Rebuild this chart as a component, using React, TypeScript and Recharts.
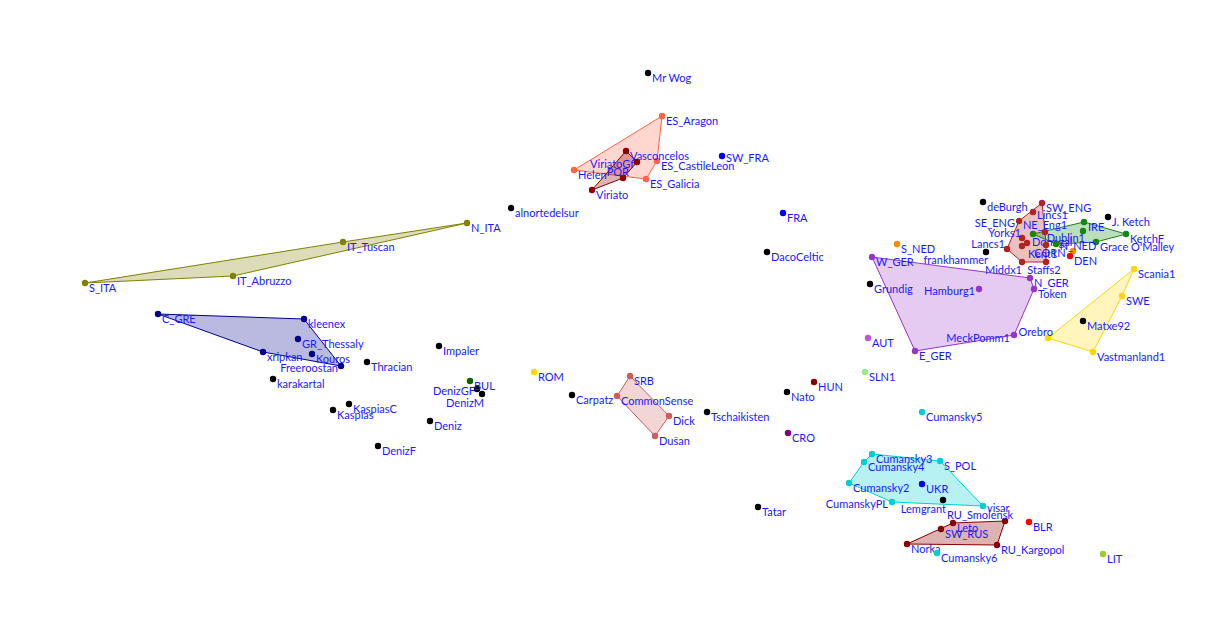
import React from "react";
import { Scatter, ScatterChart, XAxis, YAxis } from "recharts";

type Pt = { name: string; x: number; y: number };

// clusters (each gets a convex hull)
const iberia: Pt[] = [
  { name: "ES_Aragon", x: 0.62, y: 2.14 },
  { name: "Helen", x: -0.26, y: 1.6 },
  { name: "ES_CastileLeon", x: 0.57, y: 1.69 },
  { name: "ES_Galicia", x: 0.46, y: 1.51 },
];
const portugal: Pt[] = [
  { name: "Vasconcelos", x: 0.26, y: 1.79 },
  { name: "ViriatoGf", x: 0.37, y: 1.68 },
  { name: "POR", x: 0.23, y: 1.52 },
  { name: "Viriato", x: -0.08, y: 1.4 },
];
const italy: Pt[] = [
  { name: "N_ITA", x: -1.33, y: 1.07 },
  { name: "IT_Tuscan", x: -2.57, y: 0.88 },
  { name: "IT_Abruzzo", x: -3.67, y: 0.54 },
  { name: "S_ITA", x: -5.15, y: 0.47 },
];
const greece: Pt[] = [
  { name: "C_GRE", x: -4.42, y: 0.16 },
  { name: "kleenex", x: -2.96, y: 0.11 },
  { name: "GR_Thessaly", x: -3.02, y: -0.09 },
  { name: "xripkan", x: -3.37, y: -0.22 },
  { name: "Kouros", x: -2.88, y: -0.24 },
  { name: "Freeroostan", x: -2.59, y: -0.36 },
];
const balkan: Pt[] = [
  { name: "SRB", x: 0.3, y: -0.46 },
  { name: "CommonSense", x: 0.17, y: -0.66 },
  { name: "Dick", x: 0.69, y: -0.86 },
  { name: "Dušan", x: 0.55, y: -1.06 },
];
const germany: Pt[] = [
  { name: "W_GER", x: 2.72, y: 0.73 },
  { name: "Hamburg1", x: 3.79, y: 0.41 },
  { name: "N_GER", x: 4.3, y: 0.52 },
  { name: "Token", x: 4.34, y: 0.41 },
  { name: "MeckPomm1", x: 4.14, y: -0.05 },
  { name: "E_GER", x: 3.15, y: -0.21 },
];
const sweden: Pt[] = [
  { name: "Scania1", x: 5.34, y: 0.61 },
  { name: "SWE", x: 5.22, y: 0.34 },
  { name: "Orebro", x: 4.48, y: -0.08 },
  { name: "Vastmanland1", x: 4.93, y: -0.22 },
];
const cumansky: Pt[] = [
  { name: "Cumansky3", x: 2.72, y: -1.24 },
  { name: "Cumansky4", x: 2.64, y: -1.32 },
  { name: "S_POL", x: 3.4, y: -1.31 },
  { name: "Cumansky2", x: 2.49, y: -1.53 },
  { name: "CumanskyPL", x: 2.92, y: -1.72 },
  { name: "visar", x: 3.83, y: -1.76 },
];
const russia: Pt[] = [
  { name: "RU_Smolensk", x: 4.05, y: -1.91 },
  { name: "Leto", x: 3.53, y: -1.93 },
  { name: "SW_RUS", x: 3.41, y: -1.99 },
  { name: "Norka", x: 3.07, y: -2.14 },
  { name: "RU_Kargopol", x: 3.97, y: -2.15 },
];
const england: Pt[] = [
  { name: "SW_ENG", x: 4.42, y: 1.27 },
  { name: "Lincs1", x: 4.33, y: 1.18 },
  { name: "SE_ENG", x: 4.19, y: 1.09 },
  { name: "NE_Eng1", x: 4.45, y: 0.98 },
  { name: "Yorks1", x: 4.22, y: 0.92 },
  { name: "Kent1", x: 4.22, y: 0.84 },
  { name: "Donegal", x: 4.27, y: 0.87 },
  { name: "CORN", x: 4.46, y: 0.85 },
  { name: "Lancs1", x: 4.07, y: 0.81 },
  { name: "Middx1", x: 4.22, y: 0.68 },
  { name: "Staffs2", x: 4.46, y: 0.68 },
];
const ireland: Pt[] = [
  { name: "NIR", x: 4.33, y: 0.96 },
  { name: "IRE", x: 4.84, y: 1.08 },
  { name: "Dublin1", x: 4.83, y: 0.99 },
  { name: "KetchF", x: 5.26, y: 0.96 },
  { name: "Grace O'Malley", x: 4.96, y: 0.88 },
  { name: "SCO", x: 4.56, y: 0.86 },
];

// single samples, grouped by marker colour
const blackPts: Pt[] = [
  { name: "Mr Wog", x: 0.48, y: 2.57 },
  { name: "alnortedelsur", x: -0.89, y: 1.22 },
  { name: "DacoCeltic", x: 1.67, y: 0.78 },
  { name: "Grundig", x: 2.7, y: 0.46 },
  { name: "frankhammer", x: 3.86, y: 0.78 },
  { name: "deBurgh", x: 3.83, y: 1.28 },
  { name: "J. Ketch", x: 5.08, y: 1.13 },
  { name: "Matxe92", x: 4.83, y: 0.09 },
  { name: "Nato", x: 1.87, y: -0.62 },
  { name: "Tschaikisten", x: 1.07, y: -0.82 },
  { name: "Tatar", x: 1.58, y: -1.77 },
  { name: "Lemgrant", x: 3.43, y: -1.7 },
  { name: "Carpatz", x: -0.28, y: -0.65 },
  { name: "Impaler", x: -1.61, y: -0.16 },
  { name: "Thracian", x: -2.33, y: -0.32 },
  { name: "karakartal", x: -3.27, y: -0.49 },
  { name: "DenizGF", x: -1.23, y: -0.59 },
  { name: "DenizM", x: -1.18, y: -0.64 },
  { name: "KaspiasC", x: -2.51, y: -0.74 },
  { name: "Kaspias", x: -2.67, y: -0.8 },
  { name: "Deniz", x: -1.7, y: -0.91 },
  { name: "DenizF", x: -2.22, y: -1.16 },
];
const bluePts: Pt[] = [
  { name: "SW_FRA", x: 1.22, y: 1.74 },
  { name: "FRA", x: 1.83, y: 1.17 },
  { name: "UKR", x: 3.22, y: -1.54 },
];
const orangePts: Pt[] = [
  { name: "S_NED", x: 2.97, y: 0.86 },
  { name: "N_NED", x: 4.73, y: 0.79 },
];
const redPts: Pt[] = [
  { name: "DEN", x: 4.7, y: 0.74 },
  { name: "BLR", x: 4.29, y: -1.92 },
];
const goldPts: Pt[] = [{ name: "ROM", x: -0.66, y: -0.42 }];
const greenPts: Pt[] = [{ name: "BUL", x: -1.3, y: -0.51 }];
const darkRedPts: Pt[] = [{ name: "HUN", x: 2.14, y: -0.52 }];
const purplePts: Pt[] = [{ name: "CRO", x: 1.88, y: -1.03 }];
const orchidPts: Pt[] = [{ name: "AUT", x: 2.68, y: -0.08 }];
const lightGreenPts: Pt[] = [{ name: "SLN1", x: 2.65, y: -0.42 }];
const cyanPts: Pt[] = [
  { name: "Cumansky5", x: 3.22, y: -0.82 },
  { name: "Cumansky6", x: 3.37, y: -2.23 },
];
const yellowGreenPts: Pt[] = [{ name: "LIT", x: 5.03, y: -2.24 }];

// label placement tweaks: [dx, dy, anchor]; default is right of the dot
const labelPos: Record<string, [number, number, "start" | "middle" | "end"]> = {
  ViriatoGf: [-3, 1, "end"],
  POR: [6, -7, "end"],
  Freeroostan: [-3, 1, "end"],
  DenizGF: [-2, 1, "end"],
  DenizM: [2, 8, "end"],
  Hamburg1: [-4, 1, "end"],
  MeckPomm1: [-4, 2, "end"],
  Orebro: [5, -7, "end"],
  frankhammer: [2, 7, "end"],
  CumanskyPL: [-4, 1, "end"],
  Lemgrant: [3, 8, "end"],
  RU_Smolensk: [8, -7, "end"],
  SE_ENG: [-4, 1, "end"],
  Yorks1: [-1, -6, "end"],
  Lancs1: [-2, -6, "end"],
  Middx1: [0, 7, "end"],
  Staffs2: [-2, 7, "middle"],
  NE_Eng1: [0, -8, "middle"],
  Lincs1: [4, 2, "start"],
  Donegal: [5, -2, "start"],
  Kent1: [6, 7, "start"],
  CORN: [4, 7, "middle"],
  Dublin1: [2, 6, "end"],
  N_NED: [5, -6, "middle"],
  SW_FRA: [4, 1, "start"],
  visar: [4, 1, "start"],
};
const hiddenLabels = ["NIR", "SCO"];

const clusters: { data: Pt[]; color: string; fillOpacity: number }[] = [
  { data: iberia, color: "#FF6347", fillOpacity: 0.26 },
  { data: italy, color: "#808000", fillOpacity: 0.28 },
  { data: greece, color: "#00008B", fillOpacity: 0.27 },
  { data: balkan, color: "#CD5C5C", fillOpacity: 0.26 },
  { data: germany, color: "#9932CC", fillOpacity: 0.26 },
  { data: sweden, color: "#FFD700", fillOpacity: 0.26 },
  { data: cumansky, color: "#00CED1", fillOpacity: 0.28 },
  { data: russia, color: "#8B0000", fillOpacity: 0.3 },
  { data: england, color: "#B22222", fillOpacity: 0.28 },
  { data: portugal, color: "#8B0000", fillOpacity: 0.3 },
  { data: ireland, color: "#118811", fillOpacity: 0.28 },
];

const singles: { data: Pt[]; color: string }[] = [
  { data: blackPts, color: "#000000" },
  { data: bluePts, color: "#0000FF" },
  { data: orangePts, color: "#FF8C00" },
  { data: redPts, color: "#FF0000" },
  { data: goldPts, color: "#FFD700" },
  { data: greenPts, color: "#006400" },
  { data: darkRedPts, color: "#8B0000" },
  { data: purplePts, color: "#800080" },
  { data: orchidPts, color: "#BA55D3" },
  { data: lightGreenPts, color: "#90EE90" },
  { data: cyanPts, color: "#00CED1" },
  { data: yellowGreenPts, color: "#9ACD32" },
];

// monotone chain convex hull
function hull(pts: Pt[]): Pt[] {
  const p = [...pts].sort((a, b) => a.x - b.x || a.y - b.y);
  const cross = (o: Pt, a: Pt, b: Pt) =>
    (a.x - o.x) * (b.y - o.y) - (a.y - o.y) * (b.x - o.x);
  const lower: Pt[] = [];
  for (const q of p) {
    while (lower.length >= 2 && cross(lower[lower.length - 2], lower[lower.length - 1], q) <= 0) lower.pop();
    lower.push(q);
  }
  const upper: Pt[] = [];
  for (const q of [...p].reverse()) {
    while (upper.length >= 2 && cross(upper[upper.length - 2], upper[upper.length - 1], q) <= 0) upper.pop();
    upper.push(q);
  }
  return lower.slice(0, -1).concat(upper.slice(0, -1));
}

const hullLine = (color: string, fillOpacity: number) => (props: any) => (
  <polygon
    points={(props.points || []).map((q: any) => `${q.x},${q.y}`).join(" ")}
    fill={color}
    fillOpacity={fillOpacity}
    stroke={color}
    strokeWidth={1}
    strokeLinejoin="round"
  />
);

const dotWithLabel = (color: string) => (props: any) => {
  const { cx, cy, payload } = props;
  const name: string = payload.name;
  const [dx, dy, anchor] = labelPos[name] || [4, 4, "start"];
  return (
    <g>
      <circle cx={cx} cy={cy} r={3.2} fill={color} />
      {!hiddenLabels.includes(name) && (
        <text
          x={cx + dx}
          y={cy + dy}
          textAnchor={anchor}
          dominantBaseline="central"
          fontSize={11}
          fontFamily="Lato, 'Noto Sans', sans-serif"
          fill="#1a1aff"
        >
          {name}
        </text>
      )}
    </g>
  );
};

export default function App() {
  return (
    <div style={{ position: "absolute", left: 0, top: 0, background: "#fff" }}>
      <ScatterChart width={1206} height={641} margin={{ top: 0, right: 0, bottom: 0, left: 0 }}>
        <XAxis type="number" dataKey="x" domain={[-6, 6.06]} hide allowDataOverflow />
        <YAxis type="number" dataKey="y" domain={[-3.11, 3.3]} hide allowDataOverflow />
        {clusters.map((c, i) => (
          <Scatter
            key={`hull-${i}`}
            data={hull(c.data)}
            fill={c.color}
            line={hullLine(c.color, c.fillOpacity)}
            shape={() => <g />}
            isAnimationActive={false}
          />
        ))}
        {clusters.map((c, i) => (
          <Scatter
            key={`pts-${i}`}
            data={c.data}
            fill={c.color}
            shape={dotWithLabel(c.color)}
            isAnimationActive={false}
          />
        ))}
        {singles.map((s, i) => (
          <Scatter
            key={`single-${i}`}
            data={s.data}
            fill={s.color}
            shape={dotWithLabel(s.color)}
            isAnimationActive={false}
          />
        ))}
      </ScatterChart>
    </div>
  );
}
